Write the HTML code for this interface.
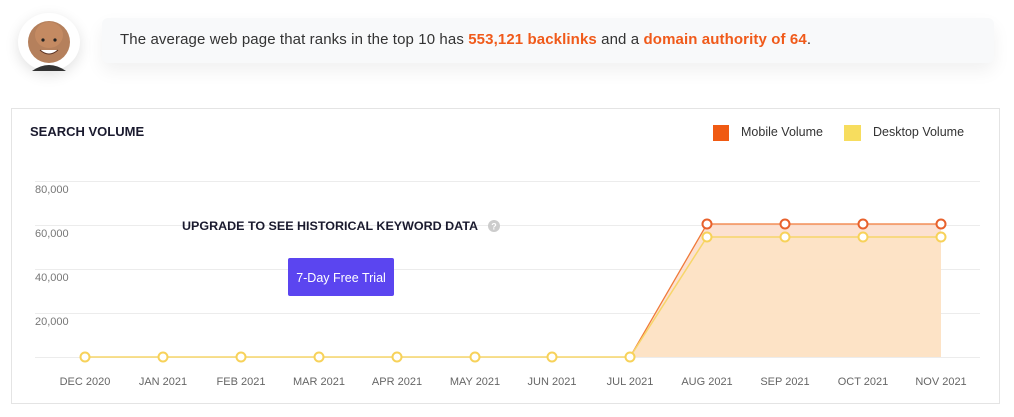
<!DOCTYPE html>
<html><head><meta charset="utf-8"><style>
body{margin:0;width:1014px;height:417px;background:#fff;font-family:"Liberation Sans",sans-serif;position:relative;overflow:hidden}
.av{position:absolute;left:18px;top:13px;width:62px;height:58px;border-radius:50%;background:#fff;box-shadow:0 4px 14px rgba(0,0,0,.12)}
.bub{position:absolute;left:102px;top:18px;width:892px;height:45px;background:#f8f9fa;border-radius:6px;box-shadow:0 8px 18px rgba(0,0,0,.06)}
.bub span.t{position:absolute;left:18px;top:13px;font-size:15px;color:#333;letter-spacing:.11px}
.o{color:#f05a1a;font-weight:bold}
.card{position:absolute;left:11px;top:108px;width:989px;height:296px;border:1px solid #e4e4e4;box-sizing:border-box}
</style></head><body>
<div class="av"><svg width="62" height="58"><circle cx="31" cy="29" r="21" fill="#b5805c"/><ellipse cx="31" cy="22" rx="14" ry="13" fill="#c48a62"/><path d="M22 37 Q31 45 40 37" fill="#fff" stroke="#5a3020"/><circle cx="25" cy="27" r="1.6" fill="#222"/><circle cx="37" cy="27" r="1.6" fill="#222"/><path d="M14 58 Q31 46 48 58Z" fill="#333"/></svg></div>
<div class="bub"><span class="t">The average web page that ranks in the top 10 has <span class="o">553,121 backlinks</span> and a <span class="o">domain authority of 64</span>.</span></div>
<div class="card"></div>
<svg width="1014" height="417" style="position:absolute;left:0;top:0" font-family="Liberation Sans, sans-serif">
<text x="30" y="136" font-size="13" font-weight="bold" fill="#1a1a2e">SEARCH VOLUME</text>
<rect x="713" y="125" width="16" height="16" fill="#f05a12"/>
<text x="741" y="136" font-size="12.5" fill="#333">Mobile Volume</text>
<rect x="844" y="125" width="17" height="16" fill="#f7dd5e"/>
<text x="873" y="136" font-size="12.5" fill="#333">Desktop Volume</text>
<g stroke="#ececec" stroke-width="1">
<line x1="35" y1="181.5" x2="980" y2="181.5"/><line x1="35" y1="225.5" x2="980" y2="225.5"/><line x1="35" y1="269.5" x2="980" y2="269.5"/><line x1="35" y1="313.5" x2="980" y2="313.5"/><line x1="35" y1="357.5" x2="980" y2="357.5"/></g>
<g font-size="11" fill="#777"><text x="35" y="193">80,000</text><text x="35" y="237">60,000</text><text x="35" y="281">40,000</text><text x="35" y="325">20,000</text></g>
<polygon points="630,357 707,224 941,224 941,357" fill="#fbd9c6" opacity=".8"/>
<polygon points="630,357 707,237 941,237 941,357" fill="#fde3c4" opacity=".9"/>
<polyline points="630,357 707,224 941,224" fill="none" stroke="#f07a3a" stroke-width="1.3"/>
<polyline points="85,357 630,357 707,237 941,237" fill="none" stroke="#f7d66a" stroke-width="1.5"/>
<g fill="#fff" stroke="#f7d25a" stroke-width="2">
<circle cx="85" cy="357" r="4.5"/><circle cx="163" cy="357" r="4.5"/><circle cx="241" cy="357" r="4.5"/><circle cx="319" cy="357" r="4.5"/><circle cx="397" cy="357" r="4.5"/><circle cx="475" cy="357" r="4.5"/><circle cx="552" cy="357" r="4.5"/><circle cx="630" cy="357" r="4.5"/>
<circle cx="707" cy="237" r="4.5"/><circle cx="785" cy="237" r="4.5"/><circle cx="863" cy="237" r="4.5"/><circle cx="941" cy="237" r="4.5"/></g>
<g fill="#fff" stroke="#e8612c" stroke-width="2">
<circle cx="707" cy="224" r="4.5"/><circle cx="785" cy="224" r="4.5"/><circle cx="863" cy="224" r="4.5"/><circle cx="941" cy="224" r="4.5"/></g>
<g font-size="11" fill="#666" text-anchor="middle">
<text x="85" y="385">DEC 2020</text><text x="163" y="385">JAN 2021</text><text x="241" y="385">FEB 2021</text><text x="319" y="385">MAR 2021</text><text x="397" y="385">APR 2021</text><text x="475" y="385">MAY 2021</text><text x="552" y="385">JUN 2021</text><text x="630" y="385">JUL 2021</text><text x="707" y="385">AUG 2021</text><text x="785" y="385">SEP 2021</text><text x="863" y="385">OCT 2021</text><text x="941" y="385">NOV 2021</text></g>
<text x="182" y="230" font-size="11.5" font-weight="bold" fill="#1a1a2e" textLength="296" lengthAdjust="spacingAndGlyphs">UPGRADE TO SEE HISTORICAL KEYWORD DATA</text>
<circle cx="494" cy="226" r="6" fill="#ccc"/><text x="494" y="229.5" font-size="9" fill="#fff" text-anchor="middle" font-weight="bold">?</text>
<rect x="288" y="258" width="106" height="38" rx="2" fill="#5b45f0"/>
<text x="341" y="282" font-size="12.5" fill="#fff" text-anchor="middle">7-Day Free Trial</text>
</svg>
</body></html>
